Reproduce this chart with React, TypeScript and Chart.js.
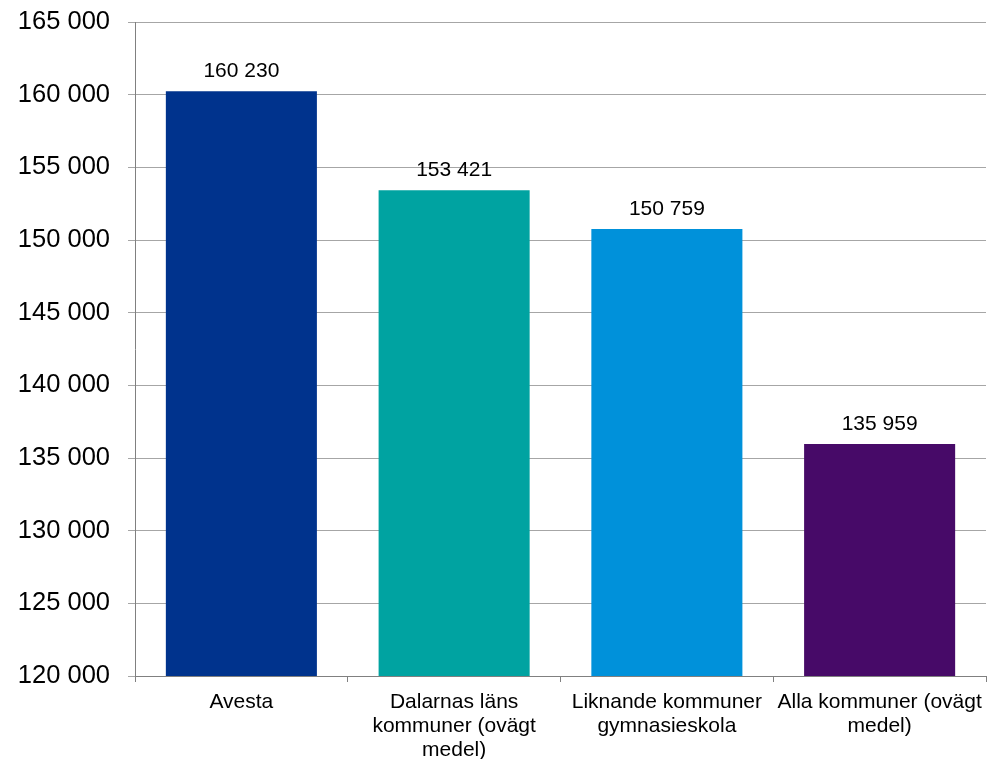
import React, { useEffect, useRef } from "react";
import { Chart, registerables } from "chart.js";
Chart.register(...registerables);

const categories: string[][] = [
  ["Avesta"],
  ["Dalarnas läns", "kommuner (ovägt", "medel)"],
  ["Liknande kommuner", "gymnasieskola"],
  ["Alla kommuner (ovägt", "medel)"],
];
const values: number[] = [160230, 153421, 150759, 135959];
const barColors: string[] = ["#00338D", "#00A3A1", "#0091DA", "#470A68"];
const yMin = 120000;
const yMax = 165000;
const yStep = 5000;

const fmt = (v: number) => String(Math.round(v)).replace(/\B(?=(\d{3})+(?!\d))/g, " ");

const FONT = "'Liberation Sans', Arial, sans-serif";

const dataLabels = {
  id: "dataLabels",
  afterDatasetsDraw(chart: any) {
    const ctx = chart.ctx;
    const meta = chart.getDatasetMeta(0);
    ctx.save();
    ctx.font = `21px ${FONT}`;
    ctx.fillStyle = "#000";
    ctx.textAlign = "center";
    ctx.textBaseline = "alphabetic";
    meta.data.forEach((el: any, i: number) => {
      ctx.fillText(fmt(values[i]), el.x, el.y - 14);
    });
    ctx.restore();
  },
};

export default function App() {
  const ref = useRef<HTMLCanvasElement>(null);
  useEffect(() => {
    document.body.style.margin = "0";
    const chart = new Chart(ref.current!, {
      type: "bar",
      data: {
        labels: categories,
        datasets: [
          {
            data: values,
            backgroundColor: barColors,
            borderWidth: 0,
            categoryPercentage: 0.71,
            barPercentage: 1,
          },
        ],
      },
      options: {
        responsive: false,
        animation: false,
        layout: { padding: { top: 22, right: 1, left: 0, bottom: 0 } },
        plugins: { legend: { display: false }, tooltip: { enabled: false } },
        scales: {
          x: {
            grid: {
              offset: true,
              drawOnChartArea: false,
              drawTicks: true,
              tickLength: 6,
              color: "#808080",
            },
            border: { color: "#808080", width: 1 },
            ticks: {
              color: "#000",
              font: { family: FONT, size: 21, lineHeight: 1.14 },
              padding: 8,
              maxRotation: 0,
              autoSkip: false,
            },
            afterFit: (s: any) => {
              s.height = 83;
              s.paddingLeft = 0;
              s.paddingRight = 0;
            },
          },
          y: {
            min: yMin,
            max: yMax,
            grid: { color: "#a6a6a6", tickLength: 7, lineWidth: 1 },
            border: { color: "#808080", width: 1 },
            ticks: {
              stepSize: yStep,
              color: "#000",
              font: { family: FONT, size: 25.5 },
              padding: 18,
              callback: (v: any) => fmt(Number(v)),
            },
            afterFit: (s: any) => {
              s.width = 135;
              s.paddingTop = 0;
              s.paddingBottom = 0;
            },
          },
        },
      },
      plugins: [dataLabels],
    });
    return () => chart.destroy();
  }, []);
  return (
    <div style={{ width: 987, height: 759, background: "#fff" }}>
      <canvas ref={ref} width={987} height={759} style={{ display: "block" }} />
    </div>
  );
}
